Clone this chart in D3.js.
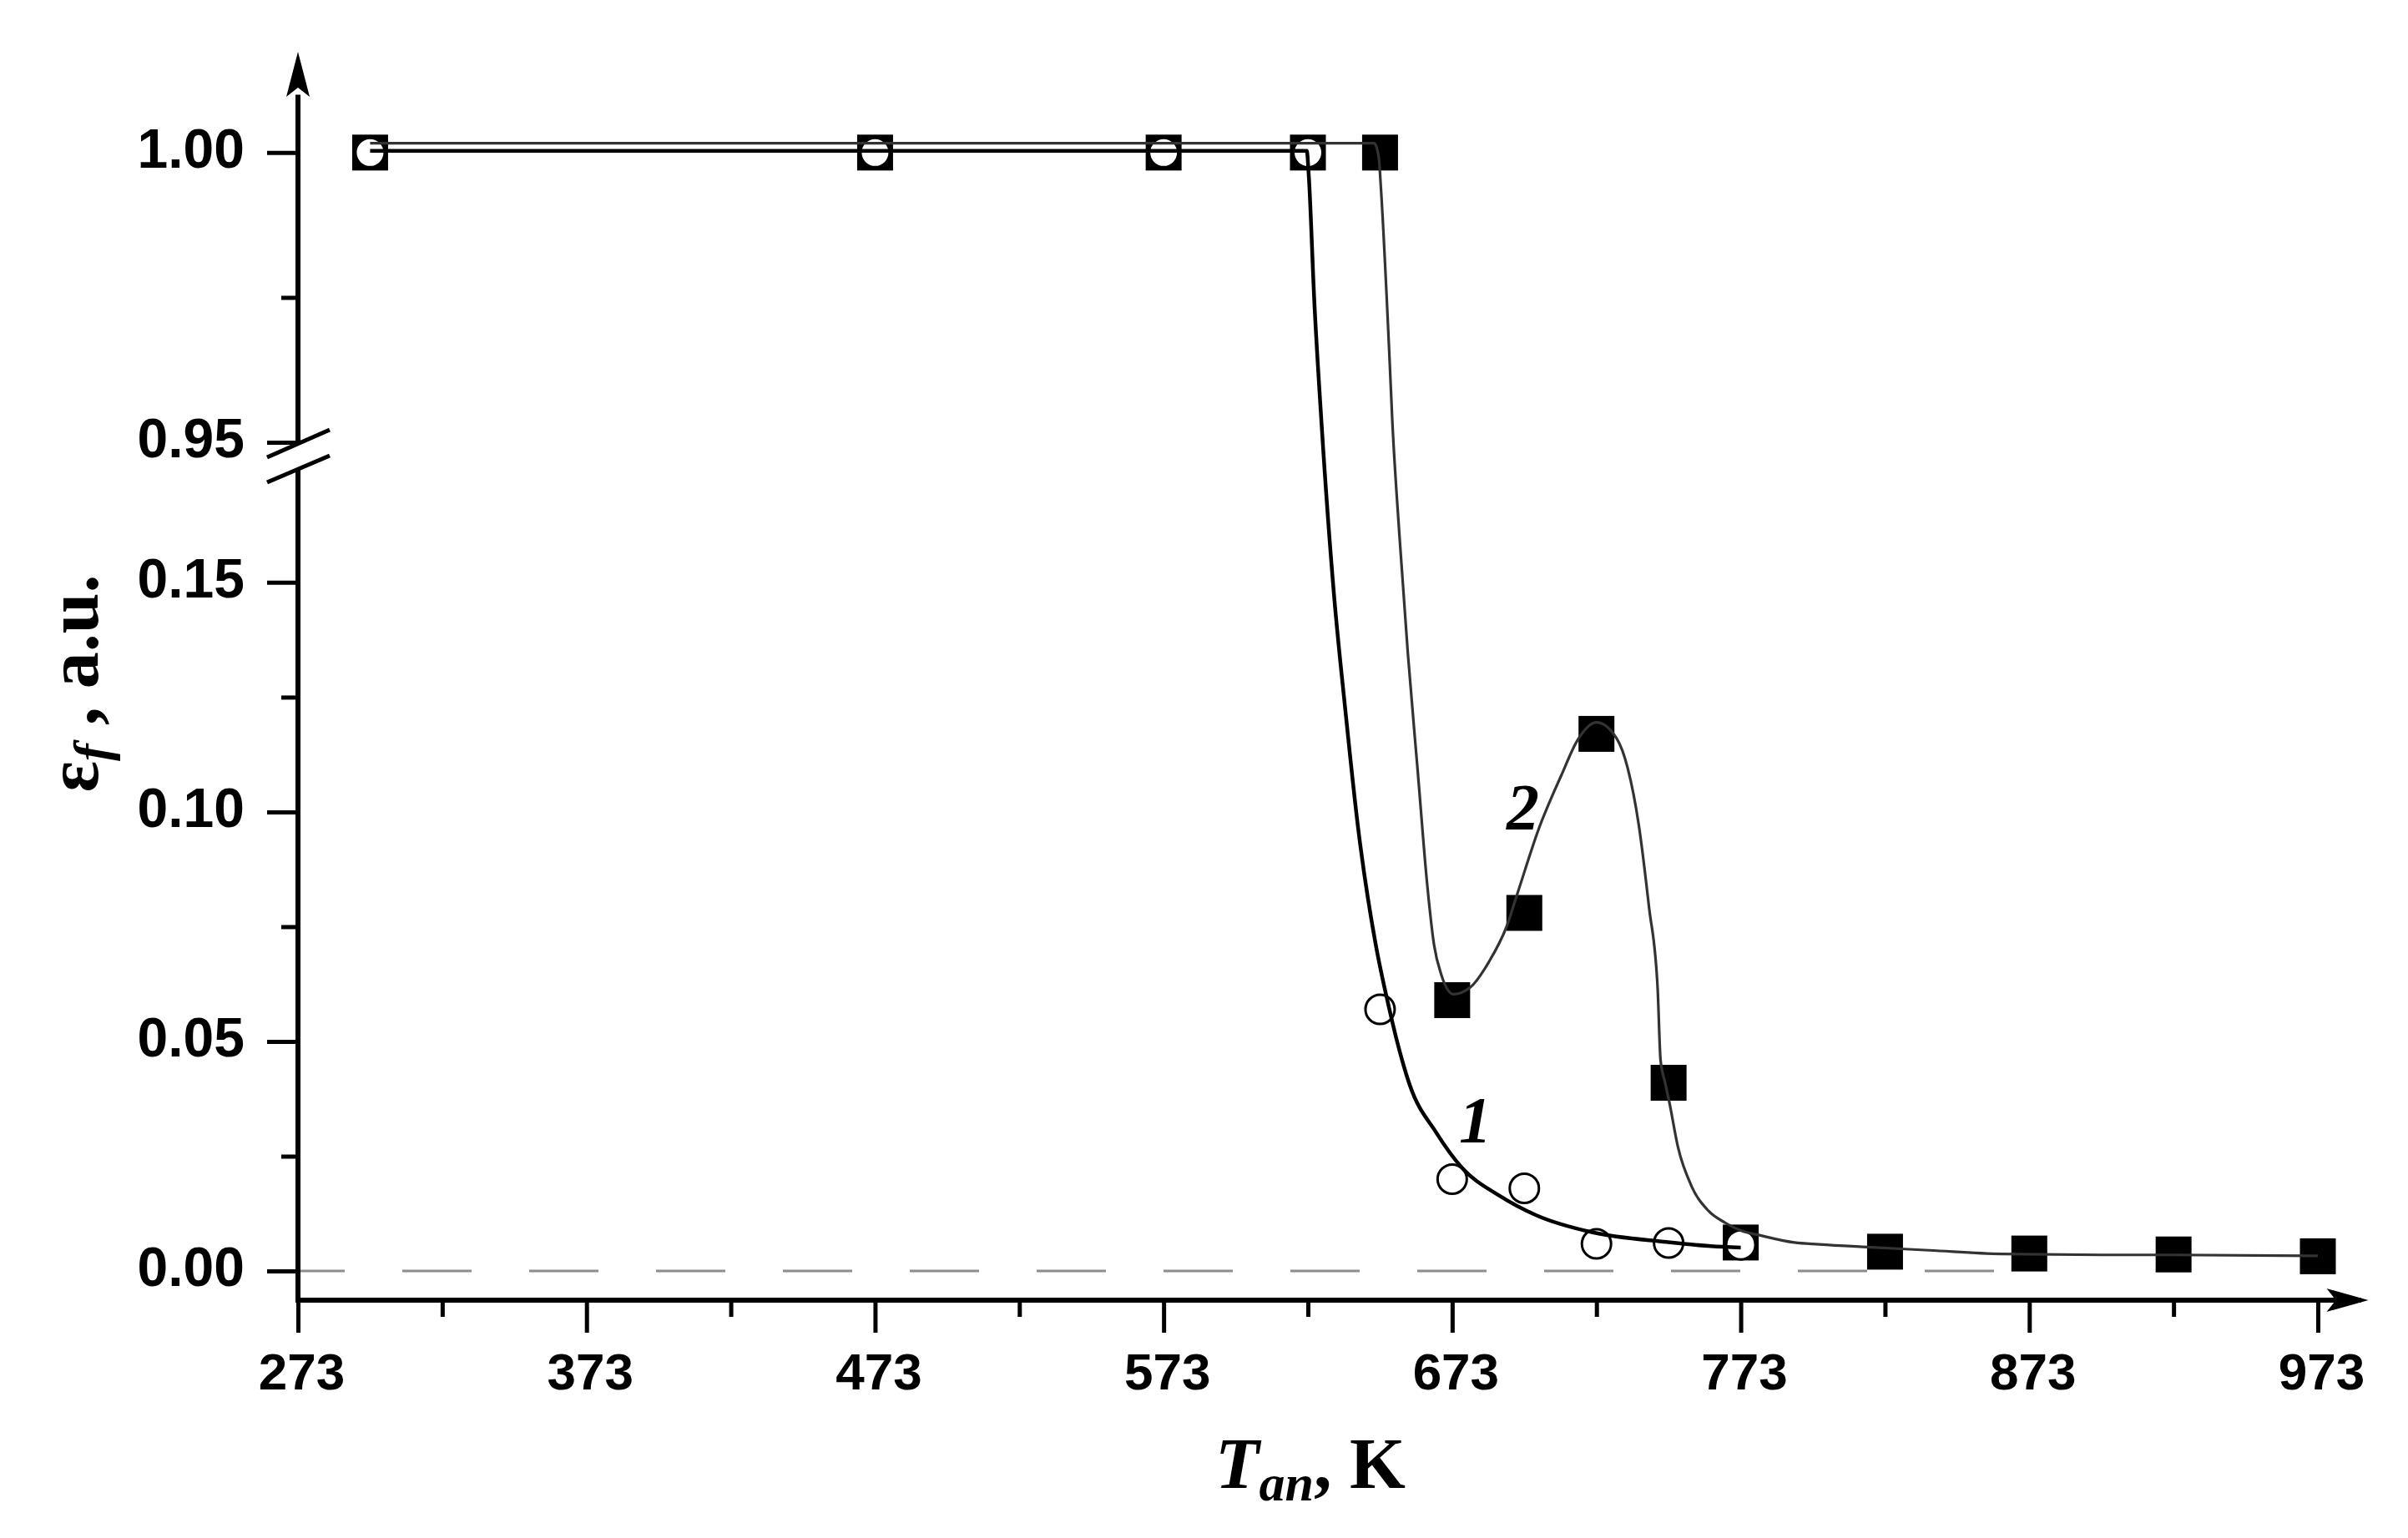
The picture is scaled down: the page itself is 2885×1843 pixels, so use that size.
<!DOCTYPE html>
<html><head><meta charset="utf-8">
<script src="https://cdnjs.cloudflare.com/ajax/libs/d3/7.8.5/d3.min.js"></script>
<style>body{margin:0;background:#fff}svg{display:block}</style>
</head><body><svg id="c" width="2885" height="1843"></svg>
<script>
// ---- data ----
const tempTicks = [273,373,473,573,673,773,873,973];
const tempMinor = [323,423,523,623,723,823,923];
const yTicks = [0,0.05,0.10,0.15,0.95,1.00];
const yMinor = [0.025,0.075,0.125,0.975];

// curve 1 (open circles)
const s1T = [298,473,573,623,648,673,698,723,748,773];
const s1V = [1,1,1,1,0.057,0.020,0.018,0.0059,0.0061,0.0057];
// curve 2 (filled squares)
const s2T = [298,473,573,623,648,673,698,723,748,773,823,873,923,973];
const s2V = [1,1,1,1,1,0.059,0.078,0.117,0.041,0.0062,0.0042,0.0038,0.0036,0.0032];

// fitted (smoothed) lines
const fit1T = [298,622.6,623.3,625.2,627.6,632.0,636.0,640.4,646.5,650.8,653.7,658.3,667.4,676.5,689.4,702.3,721.7,747.4,762.7,773];
const fit1V = [1.0003,1.0003,0.996,0.9745,0.9542,0.1476,0.122,0.0965,0.0711,0.0582,0.0505,0.0405,0.0302,0.0224,0.0164,0.0121,0.0084,0.0063,0.0054,0.0051];
const fit2T = [298,646,647.6,648.2,651.3,652.2,654.7,657.6,661.0,664.4,666.7,669.2,673.5,679.3,685.6,691.9,695.7,703,710.7,716.5,723,730,733.8,737.7,741.2,744.2,745.2,746.8,748.3,751.2,756,761.8,767.6,773,780.1,791.6,800.2,816.8,838.4,863.3,898,923,973];
const fit2V = [1.0016,1.0016,0.999,0.9947,0.9643,0.9542,0.1604,0.1348,0.1093,0.0838,0.0711,0.0646,0.0603,0.0618,0.0672,0.0751,0.0824,0.0963,0.1078,0.1157,0.1195,0.1160,0.1096,0.0970,0.0793,0.0615,0.046,0.0410,0.0366,0.0271,0.0184,0.0131,0.0105,0.0088,0.0077,0.0062,0.0058,0.0052,0.0045,0.0037,0.0035,0.0035,0.0033];

const zeroLineT = [273, 861];
const labelTexts = ["1","2"];
const labelT = [681, 697.5];
const labelV = [0.0282, 0.0964];

// ---- scales ----
const x = d3.scaleLinear().domain([273, 973]).range([357, 2777]);
// broken axis: lower part [~0, 0.1747], upper part [0.95, 1.0174]
const y = d3.scaleLinear().domain([-0.00636, 0.1747, 0.95, 1.0174]).range([1558, 562, 530, 62]);

const svg = d3.select("#c");
svg.append("rect").attr("width",2885).attr("height",1843).attr("fill","#fff");

const sans = "'Liberation Sans', Arial, sans-serif";
const serif = "'Liberation Serif', 'Times New Roman', serif";

// dashed zero line
svg.append("line")
  .attr("x1", x(zeroLineT[0])).attr("x2", x(zeroLineT[1]))
  .attr("y1", y(0)).attr("y2", y(0))
  .attr("stroke", "#8c8c8c").attr("stroke-width", 2.8)
  .attr("stroke-dasharray", "83,69").attr("stroke-dashoffset", 27);

// axes
const xAxisG = svg.append("g").attr("transform", `translate(0,${y(-0.00636)})`)
  .call(d3.axisBottom(x).tickValues(tempTicks).tickSize(39).tickPadding(24).tickFormat(d3.format("d")));
const xMinorG = svg.append("g").attr("transform", `translate(0,${y(-0.00636)})`)
  .call(d3.axisBottom(x).tickValues(tempMinor).tickSize(20).tickFormat(""));
const yAxisG = svg.append("g").attr("transform", `translate(${x(273)},0)`)
  .call(d3.axisLeft(y).tickValues(yTicks).tickSize(37).tickPadding(27).tickFormat(d3.format(".2f")));
const yMinorG = svg.append("g").attr("transform", `translate(${x(273)},0)`)
  .call(d3.axisLeft(y).tickValues(yMinor).tickSize(20).tickFormat(""));

[xAxisG, xMinorG, yAxisG, yMinorG].forEach(g => {
  g.select(".domain").remove();
  g.selectAll(".tick line").attr("stroke", "#000").attr("stroke-width", 5);
  g.selectAll("text").attr("fill", "#000").style("font-family", sans)
    .style("font-weight", "bold");
});
xAxisG.selectAll("text").style("font-size", "62px").attr("dx", 4);
yAxisG.selectAll("text").style("font-size", "66px").attr("dy", "0.27em");

// axis lines
const x0 = x(273), yb = y(-0.00636);
svg.append("line").attr("x1", x0).attr("x2", x(988)).attr("y1", yb).attr("y2", yb)
  .attr("stroke", "#000").attr("stroke-width", 6);
svg.append("path")
  .attr("d", `M${x(990.5)},${yb} L${x(990.5)-50},${yb-14} L${x(990.5)-39},${yb} L${x(990.5)-50},${yb+14} Z`)
  .attr("fill", "#000");
// y axis lower segment
svg.append("line").attr("x1", x0).attr("x2", x0).attr("y1", 562).attr("y2", yb + 3)
  .attr("stroke", "#000").attr("stroke-width", 6);
// y axis upper segment
svg.append("line").attr("x1", x0).attr("x2", x0).attr("y1", y(1.01)).attr("y2", 531)
  .attr("stroke", "#000").attr("stroke-width", 6);
const yt = y(1.0174);
svg.append("path")
  .attr("d", `M${x0},${yt} L${x0-14},${yt+54} L${x0},${yt+43} L${x0+14},${yt+54} Z`)
  .attr("fill", "#000");
// break marks
svg.append("line").attr("x1", 320).attr("y1", 548).attr("x2", 395).attr("y2", 515)
  .attr("stroke", "#000").attr("stroke-width", 5);
svg.append("line").attr("x1", 320).attr("y1", 578).attr("x2", 395).attr("y2", 546)
  .attr("stroke", "#000").attr("stroke-width", 5);

// markers: squares
svg.append("g").selectAll("rect").data(s2T.map((t,i)=>({t, v:s2V[i]}))).join("rect")
  .attr("x", d => x(d.t) - 21.5).attr("y", d => y(d.v) - 21.5)
  .attr("width", 43).attr("height", 43).attr("fill", "#000");
// circles
svg.append("g").selectAll("circle").data(s1T.map((t,i)=>({t, v:s1V[i]}))).join("circle")
  .attr("cx", d => x(d.t)).attr("cy", d => y(d.v)).attr("r", 17.5)
  .attr("fill", "#fff").attr("stroke", "#000").attr("stroke-width", 3);

// fitted lines
const line = d3.line().x(d => x(d[0])).y(d => y(d[1])).curve(d3.curveMonotoneX);
svg.append("path").datum(fit2T.map((t,i)=>[t, fit2V[i]]))
  .attr("d", line).attr("fill", "none").attr("stroke", "#333").attr("stroke-width", 3.2);
svg.append("path").datum(fit1T.map((t,i)=>[t, fit1V[i]]))
  .attr("d", line).attr("fill", "none").attr("stroke", "#000").attr("stroke-width", 4.5);

// curve labels
svg.append("g").selectAll("text").data(labelTexts).join("text")
  .attr("x", (d,i) => x(labelT[i])).attr("y", (d,i) => y(labelV[i]))
  .attr("text-anchor", "middle")
  .style("font-family", serif).style("font-weight", "bold").style("font-style", "italic")
  .style("font-size", "78px").text(d => d);

// x title
const xt = svg.append("text").attr("x", 1570).attr("y", 1783).attr("text-anchor", "middle")
  .style("font-family", serif).style("font-weight", "bold").style("font-size", "86px");
xt.append("tspan").style("font-style", "italic").text("T");
xt.append("tspan").style("font-style", "italic").style("font-size", "62px").attr("dy", 15).text("an");
xt.append("tspan").attr("dy", -15).text(", K");

// y title
const ytitle = svg.append("text").attr("transform", "translate(117,819) rotate(-90)")
  .attr("text-anchor", "middle")
  .style("font-family", serif).style("font-weight", "bold").style("font-size", "88px");
ytitle.append("tspan").text("ε");
ytitle.append("tspan").style("font-style", "italic").style("font-size", "62px").attr("dy", 14).text("f");
ytitle.append("tspan").attr("dy", -14).text(" , a.u.");
</script>
</body></html>
